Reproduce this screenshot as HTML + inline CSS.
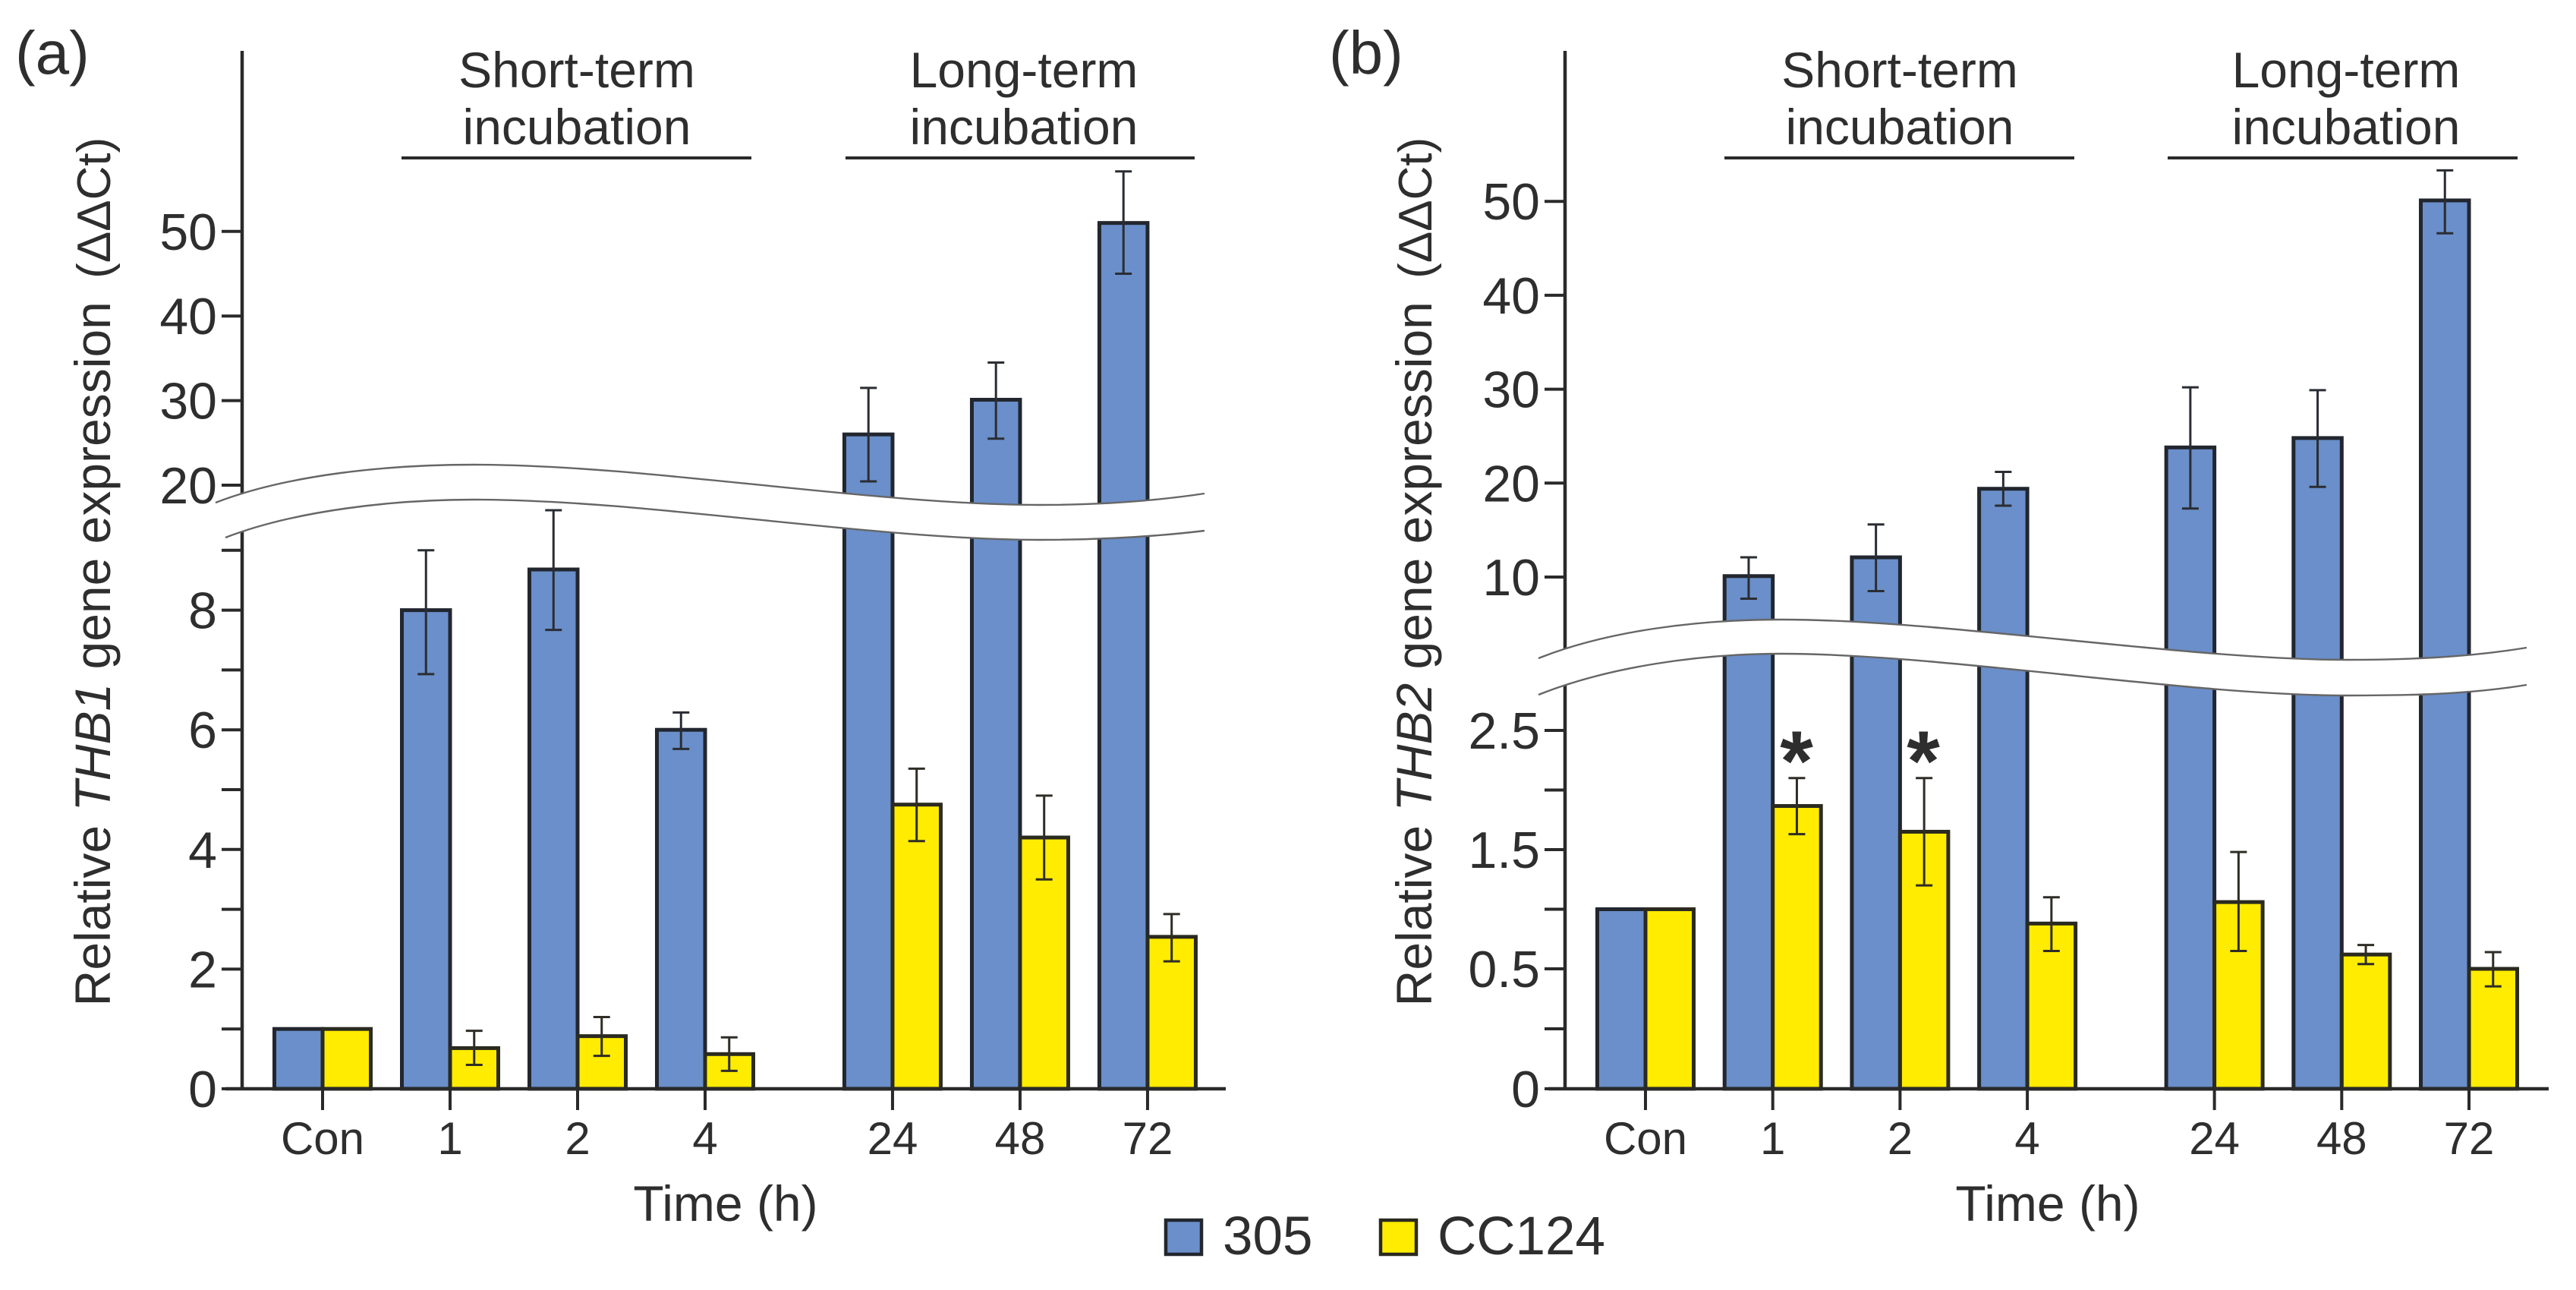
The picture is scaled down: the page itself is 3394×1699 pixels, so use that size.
<!DOCTYPE html>
<html lang="en">
<head>
<meta charset="utf-8">
<title>THB1 and THB2 gene expression</title>
<style>
html,body{margin:0;padding:0;background:#fff;}
svg{display:block;font-family:"Liberation Sans",sans-serif;fill:#2e2e2e;}
</style>
</head>
<body>
<svg id="chart" xmlns="http://www.w3.org/2000/svg" width="3394" height="1699" viewBox="0 0 3394 1699">
  <rect x="0" y="0" width="3394" height="1699" fill="#ffffff"/>
  <g id="panel-a"></g>
  <g id="panel-b"></g>

  <text x="20" y="97" font-size="80">(a)</text>
  <text x="1751" y="97" font-size="80">(b)</text>

  <text transform="translate(145,753) rotate(-90)" text-anchor="middle" font-size="66">Relative <tspan font-style="italic">THB1</tspan> gene expression <tspan dx="12" font-size="62">(ΔΔCt)</tspan></text>
  <text transform="translate(1886,753) rotate(-90)" text-anchor="middle" font-size="66">Relative <tspan font-style="italic">THB2</tspan> gene expression <tspan dx="12" font-size="62">(ΔΔCt)</tspan></text>

  <text text-anchor="middle" font-size="66"><tspan x="760" y="115">Short-term</tspan><tspan x="760" y="190">incubation</tspan></text>
  <text text-anchor="middle" font-size="66"><tspan x="1349" y="115">Long-term</tspan><tspan x="1349" y="190">incubation</tspan></text>
  <text text-anchor="middle" font-size="66"><tspan x="2503" y="115">Short-term</tspan><tspan x="2503" y="190">incubation</tspan></text>
  <text text-anchor="middle" font-size="66"><tspan x="3091" y="115">Long-term</tspan><tspan x="3091" y="190">incubation</tspan></text>

  <line x1="529" x2="990" y1="208" y2="208" stroke="#2a2a2a" stroke-width="4"/>
  <line x1="1114" x2="1574" y1="208" y2="208" stroke="#2a2a2a" stroke-width="4"/>
  <line x1="2272" x2="2733" y1="208" y2="208" stroke="#2a2a2a" stroke-width="4"/>
  <line x1="2856" x2="3317" y1="208" y2="208" stroke="#2a2a2a" stroke-width="4"/>

  <text x="956" y="1608" text-anchor="middle" font-size="66">Time (h)</text>
  <text x="2698" y="1608" text-anchor="middle" font-size="66">Time (h)</text>

  <g>
    <rect x="1536" y="1607" width="47" height="45" fill="#6a8fca" stroke="#22262e" stroke-width="4.5"/>
    <text x="1611" y="1652" font-size="71">305</text>
    <rect x="1819" y="1607" width="47" height="45" fill="#ffec00" stroke="#2a2a20" stroke-width="4.5"/>
    <text x="1894" y="1652" font-size="71">CC124</text>
  </g>

  <text x="2367" y="1041" text-anchor="middle" font-size="112" font-weight="bold">*</text>
  <text x="2534" y="1041" text-anchor="middle" font-size="112" font-weight="bold">*</text>
</svg>

<script>
// ---- shared categories ----
const categories = ['Con', '1', '2', '4', '24', '48', '72'];

// ---- panel (a) THB1 values ----
const a305Values = [1, 8, 8.68, 6, 26, 30.1, 51];
const a305ErrHigh = [null, 9, 9.67, 6.29, 31.5, 34.5, 57.1];
const a305ErrLow = [null, 6.93, 7.67, 5.68, 20.45, 25.5, 45];
const aCC124Values = [1, 0.68, 0.88, 0.58, 4.75, 4.2, 2.54];
const aCC124ErrHigh = [null, 0.97, 1.2, 0.86, 5.35, 4.9, 2.92];
const aCC124ErrLow = [null, 0.4, 0.55, 0.3, 4.14, 3.5, 2.13];
const aTickValues = [0, 1, 2, 3, 4, 5, 6, 7, 8, 9, 20, 30, 40, 50];
const aTickLabels = ['0', '', '2', '', '4', '', '6', '', '8', '', '20', '30', '40', '50'];

// ---- panel (b) THB2 values ----
const b305Values = [1, 10.1, 12.1, 19.4, 23.8, 24.8, 50.1];
const b305ErrHigh = [null, 12.1, 15.6, 21.2, 30.2, 29.9, 53.3];
const b305ErrLow = [null, 7.7, 8.5, 17.6, 17.3, 19.6, 46.6];
const bCC124Values = [1, 1.866, 1.65, 0.88, 1.06, 0.62, 0.5];
const bCC124ErrHigh = [null, 2.1, 2.1, 1.1, 1.48, 0.7, 0.64];
const bCC124ErrLow = [null, 1.63, 1.2, 0.65, 0.65, 0.54, 0.427];
const bTickValues = [0, 0.25, 0.5, 1, 1.5, 2, 2.5, 10, 20, 30, 40, 50];
const bTickLabels = ['0', '', '0.5', '', '1.5', '', '2.5', '10', '20', '30', '40', '50'];

const SVGNS = 'http://www.w3.org/2000/svg';
const INK = '#22262e';

function shape(parent, tag, attrs, text) {
  const node = document.createElementNS(SVGNS, tag);
  for (const k in attrs) node.setAttribute(k, attrs[k]);
  if (text !== undefined) node.textContent = text;
  parent.appendChild(node);
  return node;
}

// category axis functions
function xA(i) { return 425 + (i <= 3 ? i : i + 0.47) * 168; }
function xB(i) { return 2168 + (i <= 3 ? i : i + 0.47) * 167.7; }

// broken value axes
function yA(v) {
  if (v <= 12) return 1434 - v * 78.8;
  return 639 - (v - 20) * 11.14;
}
function yB(v) {
  if (v <= 0.5) return 1434 - v * 316;
  if (v <= 3) return 1276 - (v - 0.5) * 157;
  return 760 - (v - 10) * 12.37;
}

function drawPanel(root, cfg) {
  const barW = 63.5;
  const base = cfg.y(0);

  // series 305
  cfg.v305.forEach(function (v, i) {
    const el = shape(root, 'rect', {
      x: cfg.x(i) - barW, y: cfg.y(v), width: barW, height: base - cfg.y(v),
      fill: '#6a8fca', stroke: INK, 'stroke-width': 5
    });
    
    
  });

  // series CC124
  cfg.vCC.forEach(function (v, i) {
    const el = shape(root, 'rect', {
      x: cfg.x(i), y: cfg.y(v), width: barW, height: base - cfg.y(v),
      fill: '#ffec00', stroke: '#2a2a20', 'stroke-width': 5
    });
    
    
  });

  // error bars 305
  cfg.hi305.forEach(function (hi, i) {
    if (hi === null) return;
    const cx = cfg.x(i) - barW / 2;
    const g = shape(root, 'path', {
      d: 'M' + cx + ' ' + cfg.y(hi) + 'V' + cfg.y(cfg.lo305[i]) +
         'M' + (cx - 11) + ' ' + cfg.y(hi) + 'h22' +
         'M' + (cx - 11) + ' ' + cfg.y(cfg.lo305[i]) + 'h22',
      fill: 'none', stroke: '#2a2d33', 'stroke-width': 3
    });
    
    
  });

  // error bars CC124
  cfg.hiCC.forEach(function (hi, i) {
    if (hi === null) return;
    const cx = cfg.x(i) + barW / 2;
    const g = shape(root, 'path', {
      d: 'M' + cx + ' ' + cfg.y(hi) + 'V' + cfg.y(cfg.loCC[i]) +
         'M' + (cx - 11) + ' ' + cfg.y(hi) + 'h22' +
         'M' + (cx - 11) + ' ' + cfg.y(cfg.loCC[i]) + 'h22',
      fill: 'none', stroke: '#2f2d26', 'stroke-width': 3
    });
    
    
  });

  // y axis
  const yAxis = shape(root, 'line', {
    x1: cfg.axisX, x2: cfg.axisX, y1: 67, y2: base, stroke: '#2a2a2a', 'stroke-width': 4.5
  });
  
  

  // y ticks and labels
  cfg.ticks.forEach(function (t, i) {
    const ty = cfg.y(t);
    const tick = shape(root, 'line', {
      x1: cfg.axisX - 27, x2: cfg.axisX, y1: ty, y2: ty, stroke: '#2a2a2a', 'stroke-width': 4
    });
    
    
    if (cfg.tickLabels[i]) {
      const lab = shape(root, 'text', {
        x: cfg.axisX - 33, y: ty + 24, 'text-anchor': 'end', 'font-size': 68
      }, cfg.tickLabels[i]);
      
      
    }
  });

  // x axis
  const xAxis = shape(root, 'line', {
    x1: cfg.xAxisStart, x2: cfg.xAxisEnd, y1: base, y2: base, stroke: '#2a2a2a', 'stroke-width': 4.5
  });
  
  

  // x ticks and labels
  categories.forEach(function (c, i) {
    const tick = shape(root, 'line', {
      x1: cfg.x(i), x2: cfg.x(i), y1: base, y2: base + 28, stroke: '#2a2a2a', 'stroke-width': 4
    });
    
    
    const lab = shape(root, 'text', {
      x: cfg.x(i), y: 1520, 'text-anchor': 'middle', 'font-size': 60
    }, c);
    
    
  });

  // axis break band
  const band = shape(root, 'path', {
    d: cfg.breakTop + ' L' + cfg.breakBottomRev + ' Z', fill: '#ffffff', stroke: 'none'
  });
  
  
  const edgeTop = shape(root, 'path', { d: cfg.breakTop, fill: 'none', stroke: '#666', 'stroke-width': 2.4 });
  
  
  const edgeBottom = shape(root, 'path', { d: cfg.breakBottom, fill: 'none', stroke: '#666', 'stroke-width': 2.4 });
  
  
}

drawPanel(document.getElementById('panel-a'), {
  x: xA, y: yA, axisX: 319, xAxisStart: 297, xAxisEnd: 1615,
  v305: a305Values, hi305: a305ErrHigh, lo305: a305ErrLow,
  vCC: aCC124Values, hiCC: aCC124ErrHigh, loCC: aCC124ErrLow,
  ticks: aTickValues, tickLabels: aTickLabels,
  breakTop: 'M284 662 C380 625 510 612 625 612 C850 612 1150 665 1370 665 C1450 665 1520 660 1587 650',
  breakBottom: 'M297 708 C390 672 520 658 625 658 C850 658 1150 711 1370 711 C1450 711 1520 707 1587 699',
  breakBottomRev: '1587 699 C1520 707 1450 711 1370 711 C1150 711 850 658 625 658 C520 658 390 672 297 708'
});

drawPanel(document.getElementById('panel-b'), {
  x: xB, y: yB, axisX: 2062, xAxisStart: 2040, xAxisEnd: 3358,
  v305: b305Values, hi305: b305ErrHigh, lo305: b305ErrLow,
  vCC: bCC124Values, hiCC: bCC124ErrHigh, loCC: bCC124ErrLow,
  ticks: bTickValues, tickLabels: bTickLabels,
  breakTop: 'M2027 867 C2120 830 2240 816 2347 816 C2560 816 2880 869 3093 869 C3170 869 3250 866 3329 853',
  breakBottom: 'M2027 915 C2120 878 2240 861 2347 861 C2560 861 2880 916 3093 916 C3170 916 3250 915 3329 902',
  breakBottomRev: '3329 902 C3250 915 3170 916 3093 916 C2880 916 2560 861 2347 861 C2240 861 2120 878 2027 915'
});
</script>
</body>
</html>
